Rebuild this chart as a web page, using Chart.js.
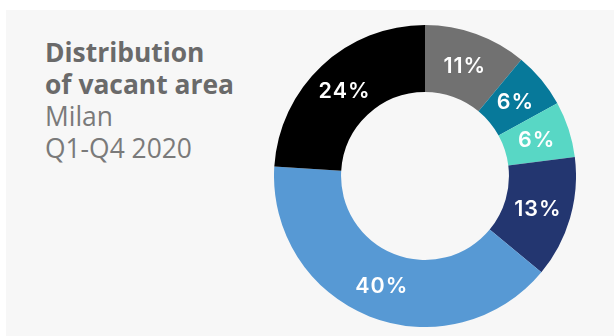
<!DOCTYPE html>
<html>
<head>
<meta charset="utf-8">
<script src="https://cdn.jsdelivr.net/npm/chart.js@4.4.0/dist/chart.umd.min.js"></script>
<style>
  html, body { margin: 0; padding: 0; background: #ffffff; width: 614px; height: 336px; overflow: hidden; }
  #panel { position: absolute; left: 6px; top: 10px; right: 0; bottom: 0; background: #f7f7f7; }
  #title { position: absolute; left: 45px; top: 36px; font-family: "Open Sans", sans-serif; font-size: 26.4px; line-height: 32px; color: #6e6e6e; }
  #title b { font-weight: 700; color: #6a6a6a; }
  #title span { font-weight: 400; color: #7a7a7a; }
  #wrap { position: absolute; left: 274px; top: 25px; width: 302px; height: 302px; }
</style>
</head>
<body>
<div id="panel"></div>
<div id="title"><b>Distribution<br>of vacant area</b><br><span>Milan<br>Q1-Q4 2020</span></div>
<div id="wrap"><canvas id="c"></canvas></div>
<script>
const categories = ["Segment A", "Segment B", "Segment C", "Segment D", "Segment E", "Segment F"];
const shares = [11, 6, 6, 13, 40, 24];
const sliceColors = ["#717171", "#07799a", "#58d7c5", "#233670", "#5799d4", "#000000"];

const labelPlugin = {
  id: 'sliceLabels',
  afterDatasetsDraw(chart) {
    const ctx = chart.ctx;
    const meta = chart.getDatasetMeta(0);
    ctx.save();
    ctx.fillStyle = '#ffffff';
    ctx.font = '600 21.5px Inter, "Open Sans", sans-serif';
    if ('letterSpacing' in ctx) ctx.letterSpacing = '1px';
    ctx.textAlign = 'center';
    ctx.textBaseline = 'middle';
    meta.data.forEach((arc, i) => {
      const p = arc.getCenterPoint();
      ctx.fillText(shares[i] + '%', p.x, p.y + 1);
    });
    ctx.restore();
  }
};

new Chart(document.getElementById('c'), {
  type: 'doughnut',
  data: {
    labels: categories,
    datasets: [{
      data: shares,
      backgroundColor: sliceColors,
      borderWidth: 0,
      hoverOffset: 0
    }]
  },
  options: {
    responsive: true,
    maintainAspectRatio: false,
    animation: false,
    cutout: '55.6%',
    layout: { padding: 0 },
    plugins: {
      legend: { display: false },
      tooltip: { enabled: false }
    },
    events: []
  },
  plugins: [labelPlugin]
});
</script>
</body>
</html>
